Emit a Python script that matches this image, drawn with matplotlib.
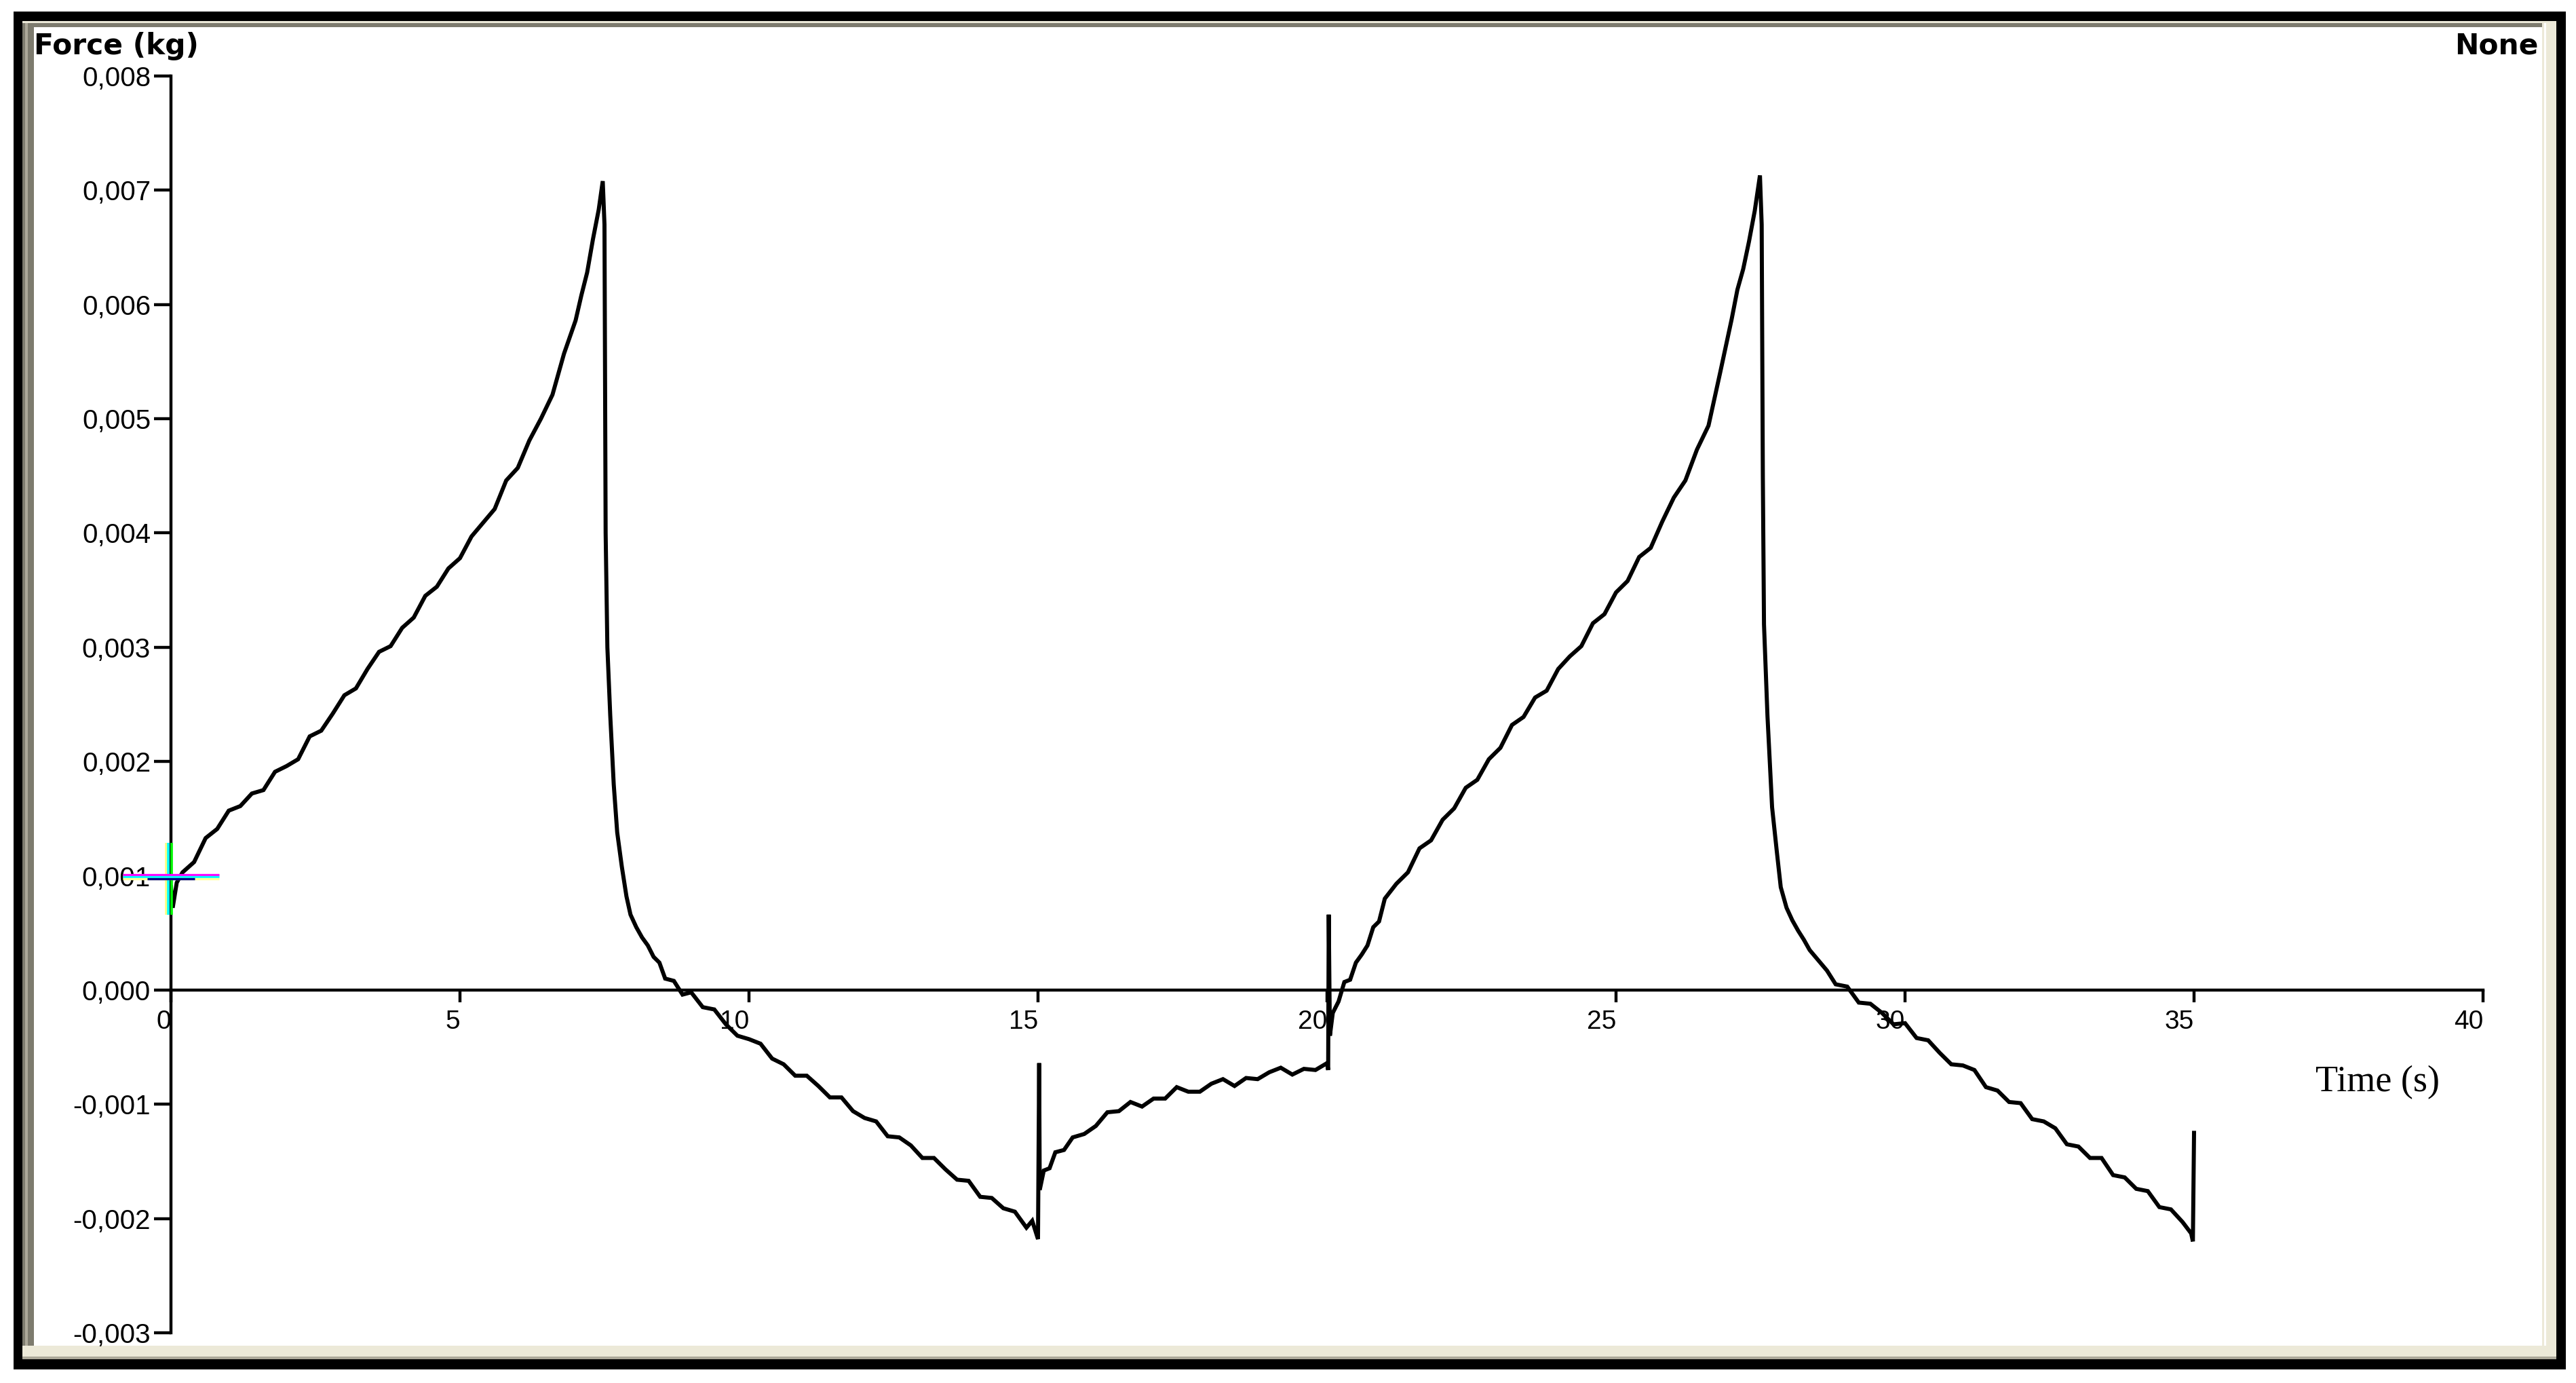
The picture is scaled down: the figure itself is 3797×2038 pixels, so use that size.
import matplotlib
matplotlib.use("Agg")
import matplotlib.pyplot as plt
from matplotlib.patches import Rectangle
from matplotlib import transforms

# ---------------- data ----------------
# rising phase 1
t_rise1 = [0.0, 0.03, 0.1, 0.2, 0.4, 0.6, 0.8, 1.0, 1.2, 1.4, 1.6, 1.8, 2.0, 2.2, 2.4, 2.6,
           2.8, 3.0, 3.2, 3.4, 3.6, 3.8, 4.0, 4.2, 4.4, 4.6, 4.8, 5.0, 5.2, 5.4, 5.6, 5.8,
           6.0, 6.2, 6.4, 6.6, 6.8, 7.0, 7.1, 7.2, 7.3, 7.4, 7.47]
f_rise1 = [0.00090, 0.00072, 0.00094, 0.00103, 0.00112, 0.00133, 0.00141, 0.00157, 0.00161,
           0.00172, 0.00175, 0.00191, 0.00196, 0.00202, 0.00222, 0.00227, 0.00242, 0.00258,
           0.00264, 0.00281, 0.00296, 0.00301, 0.00317, 0.00326, 0.00345, 0.00353, 0.00369,
           0.00378, 0.00397, 0.00409, 0.00421, 0.00446, 0.00457, 0.00481, 0.00500, 0.00521,
           0.00557, 0.00586, 0.00608, 0.00628, 0.00657, 0.00683, 0.00708]

# relaxation phase 1
t_fall1 = [7.50, 7.52, 7.55, 7.60, 7.66, 7.72, 7.80, 7.88, 7.95, 8.05, 8.15, 8.25, 8.35, 8.45,
           8.55, 8.7, 8.85, 9.0, 9.2, 9.4, 9.6, 9.8, 10.0, 10.2, 10.4, 10.6, 10.8, 11.0, 11.2,
           11.4, 11.6, 11.8, 12.0, 12.2, 12.4, 12.6, 12.8, 13.0, 13.2, 13.4, 13.6, 13.8, 14.0,
           14.2, 14.4, 14.6, 14.8, 14.9, 15.0]
f_fall1 = [0.00670, 0.00400, 0.00300, 0.00240, 0.00180, 0.00138, 0.00108, 0.00082, 0.00066,
           0.00055, 0.00046, 0.00039, 0.00029, 0.00024, 0.00010, 0.00008, -0.00004, -0.00002,
           -0.00015, -0.00017, -0.00030, -0.00040, -0.00043, -0.00047, -0.00060, -0.00065,
           -0.00075, -0.00075, -0.00084, -0.00094, -0.00094, -0.00106, -0.00112, -0.00115,
           -0.00128, -0.00129, -0.00136, -0.00147, -0.00147, -0.00157, -0.00166, -0.00167,
           -0.00181, -0.00182, -0.00191, -0.00194, -0.00208, -0.00202, -0.00218]

# spike at 15 s and partial recovery
t_hold = [15.02, 15.03, 15.1, 15.2, 15.3, 15.45, 15.6, 15.8, 16.0, 16.2, 16.4, 16.6, 16.8,
          17.0, 17.2, 17.4, 17.6, 17.8, 18.0, 18.2, 18.4, 18.6, 18.8, 19.0, 19.2, 19.4, 19.6,
          19.8, 20.0, 20.02]
f_hold = [-0.00064, -0.00175, -0.00158, -0.00156, -0.00142, -0.00140, -0.00129, -0.00126,
          -0.00119, -0.00107, -0.00106, -0.00098, -0.00102, -0.00095, -0.00095, -0.00085,
          -0.00089, -0.00089, -0.00082, -0.00078, -0.00084, -0.00077, -0.00078, -0.00072,
          -0.00068, -0.00074, -0.00069, -0.00070, -0.00064, -0.00070]

# spike at 20 s and rising phase 2
t_rise2 = [20.03, 20.05, 20.1, 20.2, 20.3, 20.4, 20.5, 20.6, 20.7, 20.8, 20.9, 21.0, 21.2,
           21.4, 21.6, 21.8, 22.0, 22.2, 22.4, 22.6, 22.8, 23.0, 23.2, 23.4, 23.6, 23.8, 24.0,
           24.2, 24.4, 24.6, 24.8, 25.0, 25.2, 25.4, 25.6, 25.8, 26.0, 26.2, 26.4, 26.6, 26.8,
           27.0, 27.1, 27.2, 27.3, 27.4, 27.49]
f_rise2 = [0.00066, -0.00040, -0.00020, -0.00010, 0.00007, 0.00009, 0.00024, 0.00031, 0.00039,
           0.00055, 0.00060, 0.00080, 0.00093, 0.00103, 0.00124, 0.00131, 0.00149, 0.00159,
           0.00177, 0.00184, 0.00202, 0.00212, 0.00232, 0.00239, 0.00256, 0.00262, 0.00281,
           0.00292, 0.00301, 0.00321, 0.00329, 0.00348, 0.00358, 0.00379, 0.00387, 0.00410,
           0.00431, 0.00446, 0.00473, 0.00494, 0.00540, 0.00587, 0.00613, 0.00631, 0.00655,
           0.00682, 0.00713]

# relaxation phase 2
t_fall2 = [27.52, 27.54, 27.56, 27.62, 27.70, 27.78, 27.85, 27.95, 28.05, 28.15, 28.25, 28.35,
           28.5, 28.65, 28.8, 29.0, 29.2, 29.4, 29.6, 29.8, 30.0, 30.2, 30.4, 30.6, 30.8, 31.0,
           31.2, 31.4, 31.6, 31.8, 32.0, 32.2, 32.4, 32.6, 32.8, 33.0, 33.2, 33.4, 33.6, 33.8,
           34.0, 34.2, 34.4, 34.6, 34.8, 34.95, 34.98, 35.0]
f_fall2 = [0.00670, 0.00450, 0.00320, 0.00240, 0.00160, 0.00122, 0.00090, 0.00072, 0.00061,
           0.00052, 0.00044, 0.00035, 0.00026, 0.00017, 0.00005, 0.00003, -0.00011, -0.00012,
           -0.00020, -0.00030, -0.00029, -0.00042, -0.00044, -0.00055, -0.00065, -0.00066,
           -0.00070, -0.00085, -0.00088, -0.00098, -0.00099, -0.00113, -0.00115, -0.00121,
           -0.00135, -0.00137, -0.00147, -0.00147, -0.00162, -0.00164, -0.00174, -0.00176,
           -0.00190, -0.00192, -0.00203, -0.00213, -0.00220, -0.00125]

x_ticks = [0, 5, 10, 15, 20, 25, 30, 35, 40]
x_ticklabels = ["0", "5", "10", "15", "20", "25", "30", "35", "40"]
y_ticks = [-0.003, -0.002, -0.001, 0.000, 0.001, 0.002, 0.003, 0.004, 0.005, 0.006, 0.007, 0.008]
y_ticklabels = ["-0,003", "-0,002", "-0,001", "0,000", "0,001", "0,002", "0,003", "0,004",
                "0,005", "0,006", "0,007", "0,008"]

y_title = "Force (kg)"
right_title = "None"
x_title = "Time (s)"

cursor_t = 0.0
cursor_f = 0.001

# ---------------- figure ----------------
W, H = 3797, 2038
DPI = 100
fig = plt.figure(figsize=(W / DPI, H / DPI), dpi=DPI, facecolor="white")


def px_rect(x0, y0, x1, y1, color, z):
    r = Rectangle((x0 / W, 1 - y1 / H), (x1 - x0) / W, (y1 - y0) / H,
                  transform=fig.transFigure, facecolor=color, edgecolor="none", zorder=z)
    fig.add_artist(r)


# window frame
px_rect(20, 17, 3782, 2018, "black", -20)
px_rect(33, 31, 3768, 2003, "#ece9d8", -19)
px_rect(33, 1999, 3768, 2003, "#aca899", -18)
px_rect(33, 31, 3747, 1983, "#7d7b6e", -18)
px_rect(33, 31, 3747, 34, "#ece9d8", -17)
px_rect(37, 34, 41, 1983, "#aca899", -17)
px_rect(50, 40, 3747, 1983, "white", -16)
px_rect(3750, 34, 3753, 1983, "white", -16)

ax = fig.add_axes([252 / W, 1 - 1964 / H, (3660 - 252) / W, (1964 - 112) / H])
ax.set_facecolor("none")

t_all = t_rise1 + t_fall1 + t_hold + t_rise2 + t_fall2
f_all = f_rise1 + f_fall1 + f_hold + f_rise2 + f_fall2
ax.plot(t_all, f_all, color="black", lw=4.3, solid_joinstyle="miter", zorder=3)

ax.set_xlim(0, 40)
ax.set_ylim(-0.003, 0.008)

for s in ["top", "right"]:
    ax.spines[s].set_visible(False)
ax.spines["bottom"].set_position(("data", 0))
for s in ["left", "bottom"]:
    ax.spines[s].set_linewidth(3.2)
    ax.spines[s].set_color("black")

ax.set_xticks(x_ticks)
ax.set_xticklabels(x_ticklabels, ha="right")
ax.set_yticks(y_ticks)
ax.set_yticklabels(y_ticklabels)

tick_font = "Liberation Sans"
ax.tick_params(axis="x", direction="out", length=13, width=3.2, pad=8,
               labelsize=28, labelfontfamily=tick_font)
ax.tick_params(axis="y", direction="out", length=18, width=3.2, pad=3.6,
               labelsize=29, labelfontfamily=tick_font)


# colored cursor cross at (cursor_t, cursor_f)
def off(dx, dy):
    return transforms.offset_copy(ax.transData, fig=fig, x=dx, y=dy, units="dots")


for color, dx in [("#ffff80", -7), ("#00ffff", -4), ("#00ff00", 1)]:
    ax.plot([cursor_t], [cursor_f], marker="|", ms=76, mew=2.6, color=color,
            transform=off(dx, -4), clip_on=False, zorder=4)
for color, dy, ms in [("#ff00ff", 2, 102), ("#00ffff", -1, 102), ("#ffff99", -4, 102),
                      ("#000080", -4, 50)]:
    ax.plot([cursor_t], [cursor_f], marker="_", ms=ms, mew=2.4, color=color,
            transform=off(0, dy), clip_on=False, zorder=4)

# texts
fig.text(50 / W, 1 - 47 / H, y_title, ha="left", va="top", fontsize=30.5,
         fontweight="bold", family="DejaVu Sans")
fig.text(3742 / W, 1 - 47 / H, right_title, ha="right", va="top", fontsize=30.5,
         fontweight="bold", family="DejaVu Sans")
fig.text(3413 / W, 1 - 1608 / H, x_title, ha="left", va="baseline", fontsize=39,
         family="Liberation Serif")

fig.savefig("out.png", dpi=DPI, facecolor="white")
